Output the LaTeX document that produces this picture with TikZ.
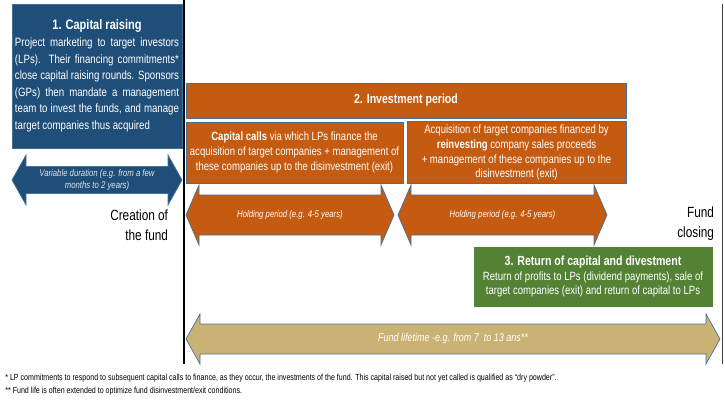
\documentclass[tikz,border=0pt]{standalone}
\usepackage{fontspec}
\setmainfont[FakeStretch=0.8]{Liberation Sans}
\usepackage{tikz}
\usetikzlibrary{positioning}
\definecolor{raiseblue}{HTML}{1F4E79}
\definecolor{investorange}{HTML}{C55A11}
\definecolor{returngreen}{HTML}{548235}
\definecolor{lifetan}{HTML}{C9B274}
\definecolor{shapeedge}{HTML}{41719C}
\tikzset{
  stagebox/.style={draw=shapeedge, line width=0.5pt, text=white, align=center, inner sep=2pt,
    font=\fontsize{8.5}{10.6}\selectfont},
  stagetitle/.style={font=\fontsize{9.4}{11}\selectfont\bfseries},
  spanfill/.style={draw=shapeedge, line width=0.5pt},
  spanlabel/.style={text=white, align=center, font=\itshape\fontsize{6.9}{8.6}\selectfont},
  eventlabel/.style={anchor=east, align=right, font=\fontsize{10.5}{14.5}\selectfont},
  timemark/.style={line width=0.9pt},
  noteline/.style={anchor=base west, inner sep=0pt, font=\fontsize{6.3}{7.5}\selectfont},
}
% double-headed span arrow: style, left tip x, right tip x, mid y, half shaft, half head, head length
\newcommand{\spanarrow}[7]{%
  \filldraw[spanfill,#1] (#2,#4) -- (#2+#7,#4-#6) -- (#2+#7,#4-#5) -- (#3-#7,#4-#5)
    -- (#3-#7,#4-#6) -- (#3,#4) -- (#3-#7,#4+#6) -- (#3-#7,#4+#5)
    -- (#2+#7,#4+#5) -- (#2+#7,#4+#6) -- cycle;}

\begin{document}
\begin{tikzpicture}[x=0.025cm, y=-0.025cm]
  \useasboundingbox (0,0) rectangle (725,401);

  % fund start / end markers
  \coordinate (startTop) at (184,0);
  \coordinate (startBot) at (184,364);
  \coordinate (endTop) at (722.5,4);
  \coordinate (endBot) at (722.5,364);
  \draw[timemark] (startTop) -- (startBot);
  \draw[timemark, line width=1.4pt, draw=black!75] (endTop) -- (endBot);

  % 1. capital raising
  \node[stagebox, fill=raiseblue, minimum width=4.25cm, minimum height=3.6cm,
    text width=4.1cm, align=justify, font=\fontsize{8.6}{11.8}\selectfont] (raising) at (97,76)
    {{\centering\fontsize{9.8}{12}\selectfont\bfseries 1. Capital raising\par}
     Project marketing to target investors\linebreak (LPs). Their financing commitments*\linebreak
     close capital raising rounds. Sponsors\linebreak (GPs) then mandate a management\linebreak
     team to invest the funds, and manage\linebreak target companies thus acquired};
  \spanarrow{fill=raiseblue}{12}{182}{180}{13.5}{25}{14}
  \node[spanlabel, text=white!85!raiseblue] (raisespan) at (97,180)
    {Variable duration (e.g. from a few\\months to 2 years)};
  \node[eventlabel] (creation) at (173,225) {Creation of\\the fund};

  % 2. investment period
  \node[stagebox, stagetitle, fill=investorange, minimum width=11cm, minimum height=0.875cm]
    (invest) at (406,100.5) {2. Investment period};
  \node[stagebox, fill=investorange, minimum width=5.425cm, minimum height=1.525cm] (calls) at (294.5,152.5)
    {\textbf{Capital calls} via which LPs finance the\\acquisition of target companies + management of\\
     these companies up to the disinvestment (exit)};
  \node[stagebox, fill=investorange, minimum width=5.475cm, minimum height=1.525cm] (reinvest) at (516.5,152.5)
    {Acquisition of target companies financed by\\\textbf{reinvesting} company sales proceeds\\
     + management of these companies up to the\\disinvestment (exit)};
  \spanarrow{fill=investorange}{186}{394}{215}{20}{30}{13}
  \spanarrow{fill=investorange}{398}{607}{215}{20}{30}{13}
  \node[spanlabel] (holdA) at (290,215) {Holding period (e.g. 4-5 years)};
  \node[spanlabel] (holdB) at (502.5,215) {Holding period (e.g. 4-5 years)};
  \node[eventlabel] (closing) at (719,223.5) {Fund\\closing};

  % 3. return of capital
  \node[stagebox, fill=returngreen, draw=returngreen, minimum width=5.95cm, minimum height=1.475cm]
    (giveback) at (593,276.5)
    {{\fontsize{9.4}{11}\selectfont\bfseries 3. Return of capital and divestment}\\
     Return of profits to LPs (dividend payments), sale of\\target companies (exit) and return of capital to LPs};

  % fund lifetime
  \spanarrow{fill=lifetan}{186}{720}{339}{15}{25}{14}
  \node[spanlabel, font=\itshape\fontsize{8}{9}\selectfont] (lifetime) at (453,339)
    {Fund lifetime -e.g. from 7~ to 13 ans**};

  % footnotes
  \node[noteline] (noteA) at (5,380)
    {* LP commitments to respond to subsequent capital calls to finance, as they occur, the investments of the fund. This capital raised but not yet called is qualified as ``dry powder''.};
  \node[noteline] (noteB) at (5,393.5)
    {** Fund life is often extended to optimize fund disinvestment/exit conditions.};
\end{tikzpicture}
\end{document}
